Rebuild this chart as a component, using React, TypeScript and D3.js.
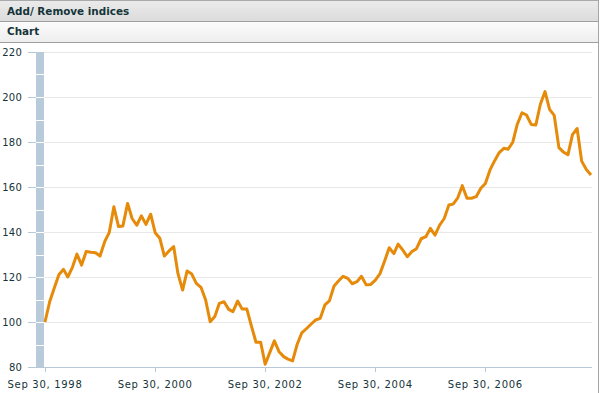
import React from "react";
import * as d3 from "d3";

// Monthly index values, Sep 30 1998 onward (month-end)
const values: number[] = [
  100, 109, 115, 121, 123.4, 120, 124.3, 130.2, 125.3, 131.3, 131, 130.8,
  129.3, 135.7, 139.7, 151.2, 142.4, 142.7, 152.7, 146, 143, 147.2, 143.4, 147.9,
  139.7, 137.2, 129.3, 131.6, 133.5, 121.6, 114.2, 122.7, 121.3, 117.2, 115.4, 109.8,
  100.1, 102.4, 108.3, 109, 105.6, 104.6, 109.3, 105.8, 105.8, 98.4, 91, 91,
  81.2, 86.5, 91.6, 86.8, 84.6, 83.5, 82.7, 90, 95.2, 97, 99, 100.9,
  101.6, 107.6, 109.4, 116, 118.3, 120.3, 119.4, 117, 117.9, 120.3, 116.5, 116.7,
  118.6, 121.5, 127, 133, 130.4, 134.6, 132, 129, 131.3, 132.6, 137, 137.9,
  141.6, 138.6, 143, 146, 152, 152.4, 155.2, 160.6, 155, 155, 155.7, 159.4,
  161.6, 167.6, 171.6, 175.3, 177.2, 176.8, 179.9, 187.9, 193, 192, 187.8, 187.6,
  196.8, 202.4, 194.5, 191.8, 177.5, 175.6, 174.3, 183.3, 186, 171.5, 167.8, 165.3,
];

const yTicks: number[] = [80, 100, 120, 140, 160, 180, 200, 220];
const xTickYears: number[] = [1998, 2000, 2002, 2004, 2006];
const headerTitle = "Add/ Remove indices";
const panelTitle = "Chart";

// month-end dates starting Sep 30, 1998
const dates: Date[] = values.map((_, i) =>
  d3.timeDay.offset(d3.timeMonth.offset(new Date(1998, 9, 1), i), -1)
);
const xTicks: Date[] = xTickYears.map((y) => new Date(y, 8, 30));
const fmt = d3.timeFormat("%b %d, %Y");

const W = 601;
const H = 393;
const left = 45;
const right = 591;
const top = 52;
const bottom = 367;

export default function App() {
  const x = d3.scaleTime().domain([dates[0], dates[dates.length - 1]]).range([left, right]);
  const y = d3.scaleLinear().domain([80, 220]).range([bottom, top]);
  const line = d3
    .line<number>()
    .x((_, i) => x(dates[i]))
    .y((d) => y(d));
  const bandMarks = d3.range(90, 220, 10);
  const textColor = "#143439";
  const axisColor = "#b7c8d8";

  return (
    <>
      <style>{`body{margin:0;}`}</style>
      <svg width={W} height={H} style={{ display: "block" }} fontFamily="'DejaVu Sans', Verdana, sans-serif">
        <defs>
          <linearGradient id="hdr1" x1="0" y1="0" x2="0" y2="1">
            <stop offset="0" stopColor="#ebebeb" />
            <stop offset="1" stopColor="#dcdcdc" />
          </linearGradient>
          <linearGradient id="hdr2" x1="0" y1="0" x2="0" y2="1">
            <stop offset="0" stopColor="#fbfbfb" />
            <stop offset="1" stopColor="#eeeeee" />
          </linearGradient>
        </defs>
        <rect x={0} y={0} width={W} height={H} fill="#ffffff" />
        {/* header bars */}
        <rect x={0} y={0} width={598} height={21} fill="url(#hdr1)" />
        <line x1={0} x2={599} y1={0.5} y2={0.5} stroke="#a9a9a9" />
        <line x1={0} x2={599} y1={21.5} y2={21.5} stroke="#9e9e9e" />
        <rect x={0} y={22} width={598} height={20} fill="url(#hdr2)" />
        <line x1={0} x2={599} y1={42.5} y2={42.5} stroke="#9e9e9e" />
        <line x1={598.5} x2={598.5} y1={0} y2={H} stroke="#a4a4a4" />
        <text x={7} y={15} fontSize={10.4} fontWeight="bold" fill={textColor}>
          {headerTitle}
        </text>
        <text x={7} y={35} fontSize={10.4} fontWeight="bold" fill={textColor}>
          {panelTitle}
        </text>

        {/* gridlines */}
        {yTicks.slice(1).map((t) => (
          <line key={"g" + t} x1={44} x2={592} y1={Math.round(y(t)) + 0.5} y2={Math.round(y(t)) + 0.5} stroke="#e8e8e8" />
        ))}

        {/* y axis band */}
        <rect x={36} y={top} width={8} height={bottom - top} fill="#b9cadb" />
        {bandMarks.map((v) => (
          <line key={"b" + v} x1={36} x2={44} y1={Math.round(y(v)) + 0.5} y2={Math.round(y(v)) + 0.5} stroke="#ffffff" />
        ))}

        {/* y ticks and labels */}
        {yTicks.map((t) => (
          <g key={"y" + t}>
            <line x1={28} x2={36} y1={Math.round(y(t)) + 0.5} y2={Math.round(y(t)) + 0.5} stroke={axisColor} />
            <text x={22} y={y(t)} dy="0.35em" textAnchor="end" fontSize={10} letterSpacing={0.2} fill={textColor}>
              {t}
            </text>
          </g>
        ))}

        {/* x axis */}
        <line x1={28} x2={592} y1={bottom + 0.5} y2={bottom + 0.5} stroke={axisColor} />
        {xTicks.map((d, i) => (
          <g key={"x" + i}>
            <line x1={Math.round(x(d)) + 0.5} x2={Math.round(x(d)) + 0.5} y1={bottom} y2={bottom + 5} stroke={axisColor} />
            <text x={x(d)} y={388} textAnchor="middle" fontSize={10} letterSpacing={0.7} fill={textColor}>
              {fmt(d)}
            </text>
          </g>
        ))}

        {/* series */}
        <path d={line(values) || ""} fill="none" stroke="#e68a0a" strokeWidth={3} strokeLinejoin="round" />
      </svg>
    </>
  );
}
